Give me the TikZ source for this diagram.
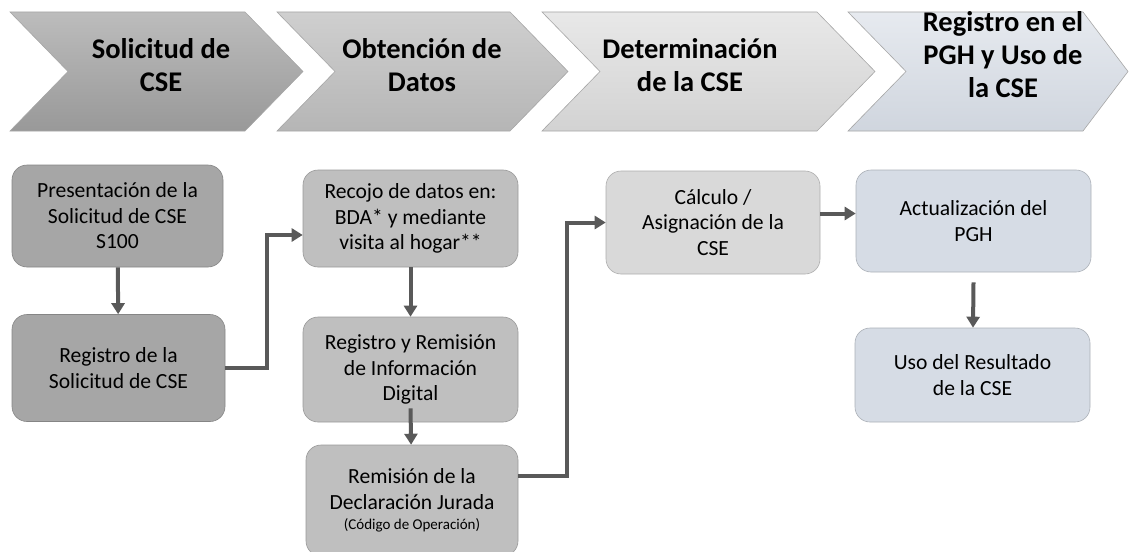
\documentclass[tikz,border=0pt]{standalone}
\usepackage{fontspec}
\setmainfont{Carlito}
\usetikzlibrary{arrows.meta, positioning}

\definecolor{boxA}{HTML}{A6A6A6}
\definecolor{boxB}{HTML}{BFBFBF}
\definecolor{boxC}{HTML}{D9D9D9}
\definecolor{boxD}{HTML}{D6DCE5}
\definecolor{arrgray}{HTML}{595959}

\begin{document}
\begin{tikzpicture}[x=1pt, y=-1pt,
		procbox/.style={draw=#1!80!black, line width=0.6pt, fill=#1, rounded corners=15pt,
			align=center, inner sep=0pt, font=\fontsize{21.6}{25.5}\selectfont},
		conn/.style={draw=arrgray, line width=4pt, -{Triangle[length=11pt,width=13pt]}},
		head/.style={align=center, font=\bfseries\fontsize{28.5}{33}\selectfont}]
		\useasboundingbox (0,0) rectangle (1131,551);

		\def\top{12};
		\def\bot{131};
		\def\mid{71.5};

		% chevrons
		\foreach \l/\c/\t/\ct/\cb in {10/245/303/boxA!75!white/boxA!92!black,
				277/510/568/boxB!75!white/boxB!95!black,
				542/817/875/boxC!60!white/boxC!97!black,
				848/1083/1128/boxD!60!white/boxD!97!black}
			\shade[top color=\ct, bottom color=\cb, draw=gray!70, line width=0.6pt]
				(\l,\top) -- (\c,\top) -- (\t,\mid) -- (\c,\bot) -- (\l,\bot) -- (\l+58,\mid) -- cycle;

		\node[head] (solic) at (161,65) {Solicitud de\\CSE};
		\node[head] (obten) at (422,65) {Obtención de\\Datos};
		\node[head] (determ) at (690,65) {Determinación\\de la CSE};
		\node[head] (regpgh) at (1003,55) {Registro en el\\PGH y Uso de\\la CSE};

		% process boxes
		\node[procbox=boxA, minimum width=211pt, minimum height=102pt] (pres) at (117.5,216)
			{Presentación de la\\Solicitud de CSE\\S100};
		\node[procbox=boxA, minimum width=213pt, minimum height=107pt] (regsol) at (118.5,368)
			{Registro de la\\Solicitud de CSE};

		\node[procbox=boxB, minimum width=215pt, minimum height=97pt] (recojo) at (410.5,218.5)
			{Recojo de datos en:\\BDA* y mediante\\visita al hogar**};
		\node[procbox=boxB, minimum width=215pt, minimum height=105pt] (regrem) at (410.5,369.5)
			{Registro y Remisión\\de Información\\Digital};
		\node[procbox=boxB, minimum width=212pt, minimum height=111pt] (decl) at (412,500.5)
			{Remisión de la\\Declaración Jurada\\[-5pt]{\fontsize{15}{18}\selectfont(Código de Operación)}};

		\node[procbox=boxC, minimum width=214pt, minimum height=103pt] (calc) at (713,222.5)
			{Cálculo /\\Asignación de la\\CSE};

		\node[procbox=boxD, minimum width=235pt, minimum height=102pt] (actu) at (973.5,221)
			{Actualización del\\PGH};
		\node[procbox=boxD, minimum width=235pt, minimum height=94pt] (uso) at (972.5,375)
			{Uso del Resultado\\de la CSE};

		% connectors
		\draw[conn] (pres) -- (regsol);
		\draw[conn] (regsol.east) -- ++(42,0) |- ([yshift=-16.5pt]recojo.west);
		\draw[conn] (recojo) -- (regrem);
		\draw[conn] ([yshift=14pt]regrem.south) -- (decl);
		\draw[conn] ([yshift=25pt]decl.east) -- ++(49,0) |- (calc.west);
		\draw[conn] ([yshift=9pt]calc.east) -- ([yshift=9pt]calc.east -| actu.west);
		\draw[conn] ([yshift=-10pt]actu.south) -- (uso);
	\end{tikzpicture}
\end{document}
